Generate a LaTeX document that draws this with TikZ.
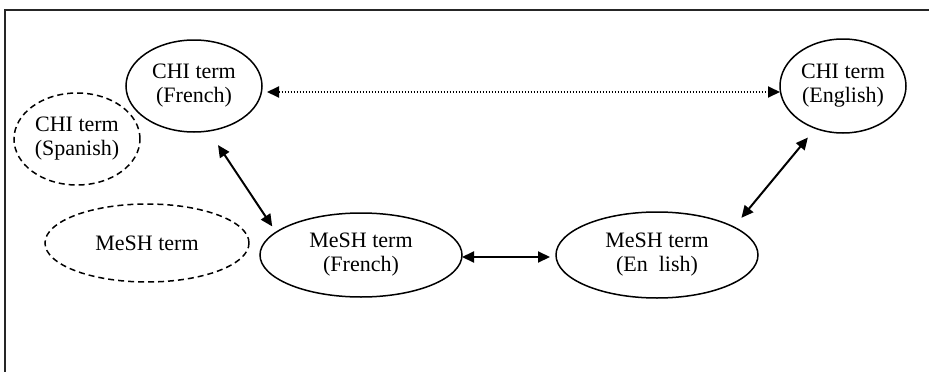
\documentclass[tikz,border=0pt]{standalone}
\usepackage{fontspec}
\setmainfont{Liberation Serif}
\usetikzlibrary{shapes.geometric,arrows.meta}
\begin{document}
\begin{tikzpicture}[x=1pt,y=-1pt,
  term/.style={ellipse, draw, line width=1.5pt, inner sep=0pt, outer sep=0pt,
    align=center, font=\fontsize{22}{24}\selectfont},
  dterm/.style={term, dashed, dash pattern=on 6pt off 4pt},
  link/.style={{Triangle[length=12pt,width=11pt]}-{Triangle[length=12pt,width=11pt]}, line width=2pt},
  dlink/.style={link, dash pattern=on 1.6pt off 1.4pt, line width=1.9pt}]
\useasboundingbox (0,0) rectangle (929,372);
\draw[line width=2pt, black!85] (940,10) -- (5,10) -- (5,380);
\node[term, minimum width=136pt, minimum height=92pt] (chifr) at (194,86) {CHI term\\(French)};
\node[term, minimum width=126pt, minimum height=94pt] (chien) at (843,86) {CHI term\\(English)};
\node[dterm, minimum width=126pt, minimum height=92pt] (chisp) at (77,139) {CHI term\\(Spanish)};
\node[dterm, minimum width=204pt, minimum height=78pt] (meshx) at (147,243) {MeSH term};
\node[term, minimum width=202pt, minimum height=84pt] (meshfr) at (361,255) {MeSH term\\(French)};
\node[term, minimum width=202pt, minimum height=86pt] (meshen) at (657,255) {MeSH term\\(En\phantom{g}lish)};
\draw[dlink, shorten <=5pt] ([yshift=-6pt]chifr.east) -- ([yshift=-6pt]chien.west);
\draw[link, shorten <=17pt, shorten >=7pt] (chifr.-72) -- (meshfr.165);
\draw[link, shorten >=6pt] ([yshift=-2pt]meshfr.east) -- ([yshift=-2pt]meshen.west);
\draw[link, shorten <=12pt, shorten >=12pt] (meshen.20) -- (chien.-123);
\end{tikzpicture}
\end{document}
